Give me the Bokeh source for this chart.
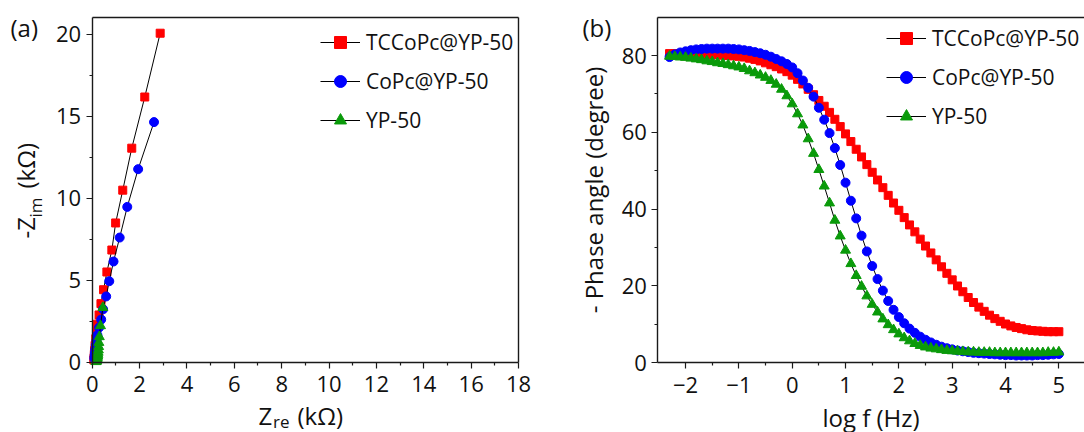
from bokeh.plotting import figure
from bokeh.layouts import row
from bokeh.models import Legend, LegendItem, Label, FixedTicker, Range1d, LinearAxis
from bokeh.embed import file_html
from bokeh.resources import INLINE

FONT = "Open Sans"

series_names = ["TCCoPc@YP-50", "CoPc@YP-50", "YP-50"]
colors = ["#ff0000", "#0000ff", "#0a9a0a"]
markers = ["square", "circle", "triangle"]
marker_sizes = [8, 9, 10]

# ---- (a) Nyquist data (kOhm) ----
tc_zre = [2.87, 2.22, 1.67, 1.29, 0.99, 0.83, 0.62, 0.48, 0.37, 0.29, 0.22, 0.18, 0.15, 0.12, 0.10, 0.09, 0.08, 0.07]
tc_zim = [20.06, 16.17, 13.05, 10.49, 8.49, 6.84, 5.50, 4.42, 3.57, 2.88, 2.32, 1.87, 1.43, 1.02, 0.71, 0.47, 0.26, 0.14]
co_zre = [2.61, 1.94, 1.48, 1.16, 0.90, 0.72, 0.59, 0.46, 0.38, 0.29, 0.22, 0.18, 0.15, 0.13, 0.11, 0.10, 0.09]
co_zim = [14.64, 11.77, 9.47, 7.60, 6.14, 4.94, 4.01, 3.23, 2.60, 2.11, 1.65, 1.32, 1.04, 0.77, 0.55, 0.37, 0.22]
yp_zre = [0.45, 0.35, 0.30, 0.28, 0.27, 0.26, 0.25, 0.24, 0.23, 0.22, 0.21, 0.20, 0.19, 0.18, 0.17, 0.16]
yp_zim = [3.33, 2.22, 1.55, 1.20, 0.95, 0.75, 0.60, 0.47, 0.37, 0.29, 0.22, 0.16, 0.12, 0.08, 0.05, 0.03]

# ---- (b) Bode phase data ----
logf = [-2.3, -2.2, -2.1, -2.0, -1.9, -1.8, -1.7, -1.6, -1.5, -1.4, -1.3, -1.2, -1.1, -1.0,
        -0.9, -0.8, -0.7, -0.6, -0.5, -0.4, -0.3, -0.2, -0.1, 0.0, 0.1, 0.2, 0.3, 0.4, 0.5,
        0.6, 0.7, 0.8, 0.9, 1.0, 1.1, 1.2, 1.3, 1.4, 1.5, 1.6, 1.7, 1.8, 1.9, 2.0, 2.1, 2.2,
        2.3, 2.4, 2.5, 2.6, 2.7, 2.8, 2.9, 3.0, 3.1, 3.2, 3.3, 3.4, 3.5, 3.6, 3.7, 3.8, 3.9,
        4.0, 4.1, 4.2, 4.3, 4.4, 4.5, 4.6, 4.7, 4.8, 4.9, 5.0]
tc_phase = [80.5, 80.5, 80.5, 80.5, 80.5, 80.4, 80.4, 80.3, 80.3, 80.2, 80.1, 80.0, 79.9, 79.8,
            79.6, 79.3, 79.0, 78.6, 78.1, 77.6, 77.1, 76.5, 75.8, 74.9, 73.8, 72.6, 71.2, 69.8, 68.3,
            66.8, 65.2, 63.4, 61.5, 59.6, 57.6, 55.6, 53.6, 51.6, 49.6, 47.6, 45.6, 43.6, 41.6, 39.7,
            37.8, 35.9, 34.1, 32.2, 30.4, 28.6, 26.8, 25.0, 23.3, 21.6, 20.0, 18.5, 17.0, 15.7, 14.5,
            13.4, 12.4, 11.5, 10.8, 10.1, 9.6, 9.2, 8.9, 8.6, 8.4, 8.3, 8.2, 8.1, 8.1, 8.1]
co_phase = [79.6, 80.3, 80.8, 81.1, 81.4, 81.6, 81.7, 81.8, 81.8, 81.8, 81.8, 81.8, 81.7, 81.6,
            81.4, 81.2, 80.9, 80.6, 80.2, 79.7, 79.1, 78.5, 77.8, 76.9, 75.4, 73.5, 71.6, 69.3, 66.4,
            63.3, 59.8, 55.9, 51.5, 46.9, 42.2, 37.6, 33.1, 29.0, 25.2, 21.8, 18.8, 16.1, 13.8, 11.9,
            10.3, 8.9, 7.8, 6.8, 6.0, 5.3, 4.7, 4.2, 3.8, 3.5, 3.2, 3.0, 2.8, 2.6, 2.5,
            2.4, 2.3, 2.2, 2.1, 2.0, 2.0, 1.9, 1.9, 1.9, 1.9, 2.0, 2.0, 2.1, 2.2, 2.3]
yp_phase = [79.8, 79.7, 79.6, 79.5, 79.3, 79.1, 78.9, 78.6, 78.4, 78.1, 77.9, 77.6, 77.3, 77.0,
            76.6, 76.0, 75.5, 74.9, 74.3, 73.5, 72.5, 71.2, 69.5, 67.4, 64.8, 61.9, 58.3, 54.5, 50.3,
            46.0, 41.6, 37.1, 33.0, 29.3, 25.8, 22.7, 19.9, 17.4, 15.2, 13.2, 11.4, 9.9, 8.6, 7.5,
            6.5, 5.7, 5.0, 4.5, 4.1, 3.8, 3.6, 3.4, 3.2, 3.1, 3.0, 2.9, 2.8, 2.8, 2.7,
            2.7, 2.7, 2.6, 2.6, 2.6, 2.6, 2.6, 2.6, 2.6, 2.6, 2.6, 2.6, 2.7, 2.7, 2.8]

a_xticks = [0, 2, 4, 6, 8, 10, 12, 14, 16, 18]
a_xminor = [1, 3, 5, 7, 9, 11, 13, 15, 17]
a_yticks = [0, 5, 10, 15, 20]
a_yminor = [2.5, 7.5, 12.5, 17.5]
b_xticks = [-2, -1, 0, 1, 2, 3, 4, 5]
b_xminor = [-1.5, -0.5, 0.5, 1.5, 2.5, 3.5, 4.5]
b_yticks = [0, 20, 40, 60, 80]
b_yminor = [10, 30, 50, 70]

AX = "#1a1a1a"
TXT = "#111111"


def style_axis(ax, ticks, minor, bounds, loc):
    ax.fixed_location = loc
    ax.bounds = bounds
    ax.ticker = FixedTicker(ticks=ticks, minor_ticks=minor)
    ax.axis_line_color = AX
    ax.axis_line_width = 1.4
    ax.major_tick_line_color = AX
    ax.minor_tick_line_color = AX
    ax.major_tick_line_width = 1.2
    ax.minor_tick_line_width = 1.2
    ax.major_tick_out = 6
    ax.major_tick_in = 0
    ax.minor_tick_out = 3
    ax.minor_tick_in = 0
    ax.major_label_text_font = FONT
    ax.major_label_text_font_size = "22px"
    ax.major_label_text_color = TXT
    ax.axis_label_text_font = FONT
    ax.axis_label_text_font_size = "24px"
    ax.axis_label_text_font_style = "normal"
    ax.axis_label_text_color = TXT


def border_axis(p, place, bounds, loc):
    ax = LinearAxis(fixed_location=loc, bounds=bounds, ticker=FixedTicker(ticks=[]),
                    axis_line_color=AX, axis_line_width=1.4,
                    major_tick_out=0, major_tick_in=0, minor_tick_out=0, minor_tick_in=0,
                    major_label_text_font_size="0px")
    p.add_layout(ax, place)


def add_series(p, xs_list, ys_list):
    items = []
    for xs, ys, name, c, mk, sz in zip(xs_list, ys_list, series_names, colors, markers, marker_sizes):
        ln = p.line(xs, ys, line_color="black", line_width=1)
        sc = p.scatter(xs, ys, marker=mk, size=sz, fill_color=c, line_color=c)
        items.append(LegendItem(label=name, renderers=[ln, sc]))
    return items


def make_legend(items, loc):
    return Legend(items=items, location=loc, glyph_width=40, glyph_height=30,
                  label_height=30, spacing=9, padding=0, margin=0, label_standoff=6,
                  border_line_color=None, background_fill_alpha=0,
                  label_text_font=FONT, label_text_font_size="21px",
                  label_text_color=TXT)


def lab(p, x, y, text, size, angle=0.0):
    p.add_layout(Label(x=x, y=y, text=text, text_font=FONT, text_font_size=size,
                       text_color=TXT, angle=angle, text_baseline="alphabetic",
                       text_align="left"))


# ---------------- panel (a) ----------------
pa = figure(width=540, height=432, output_backend="svg", toolbar_location=None,
            x_range=Range1d(-3.872, 18.929), y_range=Range1d(-4.287, 22.055),
            min_border=0)
pa.outline_line_color = None
pa.xgrid.visible = False
pa.ygrid.visible = False
style_axis(pa.xaxis[0], a_xticks, a_xminor, (0, 18), 0)
style_axis(pa.yaxis[0], a_yticks, a_yminor, (0, 21), 0)
pa.xaxis[0].major_label_standoff = 8
pa.yaxis[0].major_label_standoff = 5
border_axis(pa, "above", (0, 18), 21)
border_axis(pa, "right", (0, 21), 18)
items_a = add_series(pa, [tc_zre, co_zre, yp_zre], [tc_zim, co_zim, yp_zim])
pa.add_layout(make_legend(items_a, (320, 297)))

# axis titles with subscripts for (a)
lab(pa, 7.023, -3.27, "Z", "24px")
lab(pa, 7.635, -3.63, "re", "17px")
lab(pa, 8.67, -3.27, "(kΩ)", "24px")
lab(pa, -2.821, 7.543, "-Z", "24px", 1.5708)
lab(pa, -2.386, 8.823, "im", "17px", 1.5708)
lab(pa, -2.821, 10.591, "(kΩ)", "24px", 1.5708)
lab(pa, -3.450, 20.384, "(a)", "24px")

# ---------------- panel (b) ----------------
pb = figure(width=544, height=432, output_backend="svg", toolbar_location=None,
            x_range=Range1d(-4.720, 5.481), y_range=Range1d(-18.146, 94.33),
            min_border=0, x_axis_label="log f (Hz)", y_axis_label="- Phase angle (degree)")
pb.outline_line_color = None
pb.xgrid.visible = False
pb.ygrid.visible = False
style_axis(pb.xaxis[0], b_xticks, b_xminor, (-2.52, 5.481), 0)
style_axis(pb.yaxis[0], b_yticks, b_yminor, (0, 90), -2.52)
pb.xaxis[0].major_label_standoff = 8
pb.yaxis[0].major_label_standoff = 5
pb.xaxis[0].major_label_overrides = {-2: "\u22122", -1: "\u22121"}
pb.xaxis[0].axis_label_standoff = 5
pb.yaxis[0].axis_label_standoff = 8
border_axis(pb, "above", (-2.52, 5.481), 90)
items_b = add_series(pb, [logf, logf, logf], [tc_phase, co_phase, yp_phase])
pb.add_layout(make_legend(items_b, (346, 301)))
lab(pb, -3.932, 87.19, "(b)", "24px")

layout = row(pa, pb)
open("out.html", "w").write(file_html(layout, INLINE))
